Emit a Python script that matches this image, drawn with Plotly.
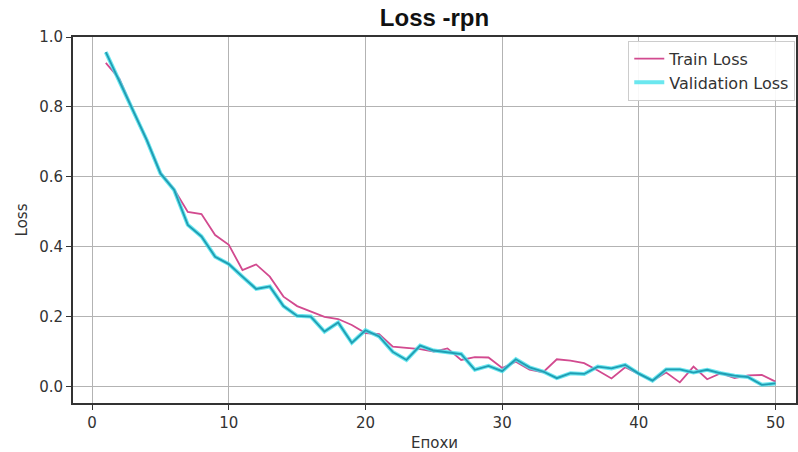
import plotly.graph_objects as go

epochs = list(range(1, 51))
train_loss = [0.926, 0.880, 0.790, 0.705, 0.612, 0.565, 0.500, 0.494, 0.434, 0.406,
              0.334, 0.350, 0.315, 0.258, 0.231, 0.215, 0.200, 0.194, 0.177, 0.154,
              0.151, 0.115, 0.111, 0.108, 0.101, 0.110, 0.077, 0.085, 0.084, 0.054,
              0.072, 0.049, 0.042, 0.079, 0.075, 0.068, 0.047, 0.024, 0.056, 0.038,
              0.018, 0.041, 0.013, 0.058, 0.022, 0.039, 0.025, 0.033, 0.034, 0.015]
val_loss = [0.957, 0.872, 0.790, 0.705, 0.610, 0.563, 0.463, 0.430, 0.372, 0.351,
            0.315, 0.280, 0.287, 0.231, 0.203, 0.201, 0.158, 0.184, 0.126, 0.162,
            0.144, 0.100, 0.077, 0.118, 0.104, 0.100, 0.094, 0.049, 0.060, 0.045,
            0.079, 0.056, 0.044, 0.025, 0.039, 0.037, 0.058, 0.053, 0.063, 0.038,
            0.018, 0.050, 0.050, 0.041, 0.049, 0.039, 0.032, 0.028, 0.006, 0.010]
x_ticks = [0, 10, 20, 30, 40, 50]
y_ticks = [0.0, 0.2, 0.4, 0.6, 0.8, 1.0]

fig = go.Figure()
fig.add_trace(go.Scatter(x=epochs, y=train_loss, mode="lines", name="Train Loss",
                         line=dict(color="#d24a8f", width=1.8)))
fig.add_trace(go.Scatter(x=epochs, y=val_loss, mode="lines", name="Validation Loss",
                         line=dict(color="rgba(70,225,235,0.8)", width=4)))
fig.add_trace(go.Scatter(x=epochs, y=val_loss, mode="lines", showlegend=False,
                         hoverinfo="skip", line=dict(color="#1f9db3", width=1.8)))

axis_common = dict(showline=True, linecolor="#333333", linewidth=2, mirror=True,
                   ticks="outside", ticklen=5, tickcolor="#333333", tickwidth=1,
                   showgrid=True, gridcolor="#b3b3b3", gridwidth=1, zeroline=False,
                   tickfont=dict(family="DejaVu Sans", size=15, color="#333333"))

fig.update_layout(
    width=798, height=452,
    margin=dict(l=73, r=0, t=37, b=49),
    paper_bgcolor="white", plot_bgcolor="white",
    title=dict(text="<b>Loss -rpn</b>", x=0.5, xref="paper", y=0.96, yref="container",
               xanchor="center", yanchor="middle",
               font=dict(family="Liberation Sans, Arial", size=24, color="#111111")),
    xaxis=dict(range=[-1.4, 51.5], tickvals=x_ticks,
               title=dict(text="Епохи", standoff=8,
                          font=dict(family="DejaVu Sans", size=15, color="#333333")),
               **axis_common),
    yaxis=dict(range=[-0.046, 1.0], tickvals=y_ticks, tickformat=".1f",
               title=dict(text="Loss", standoff=8,
                          font=dict(family="DejaVu Sans", size=15, color="#333333")),
               **axis_common),
    legend=dict(x=0.768, y=0.99, xanchor="left", yanchor="top",
                bgcolor="rgba(255,255,255,0.9)", bordercolor="#cccccc", borderwidth=1,
                font=dict(family="DejaVu Sans", size=16, color="#333333")),
    showlegend=True,
)

fig.write_html("out.html", config={"displayModeBar": False},
               post_script="document.body.style.margin='0';")
